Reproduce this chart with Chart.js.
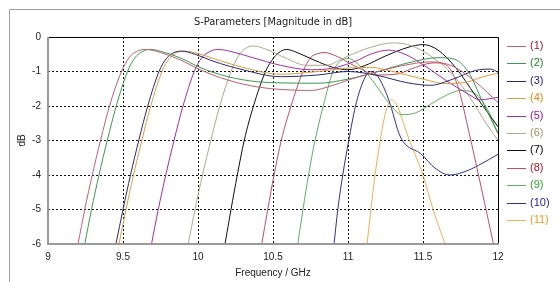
<!DOCTYPE html>
<html>
<head>
<meta charset="utf-8">
<script src="https://cdn.jsdelivr.net/npm/chart.js@4"></script>
<style>
  html, body { margin: 0; padding: 0; background: #fff; }
  #wrap { width: 560px; height: 282px; }
</style>
</head>
<body>
<div id="wrap"><canvas id="sparams"></canvas></div>
<script>
// ---- data: [frequency GHz, magnitude dB] per curve ----
const s1 = [[9.2,-6],[9.245,-5],[9.295,-4],[9.35,-3],[9.41,-2],[9.49,-1],[9.54,-0.6],[9.59,-0.42],[9.65,-0.36],[9.75,-0.45],[9.9,-0.7],[10.0,-0.92],[10.2,-1.25],[10.4,-1.45],[10.55,-1.52],[10.75,-1.55],[10.9,-1.4],[11.0,-1.25],[11.2,-1.0],[11.4,-0.8],[11.55,-0.72],[11.7,-0.85],[11.85,-1.3],[12.0,-1.9]];
const s2 = [[9.245,-6],[9.29,-5],[9.34,-4],[9.395,-3],[9.455,-2],[9.53,-1],[9.58,-0.6],[9.63,-0.42],[9.68,-0.36],[9.78,-0.45],[9.92,-0.68],[10.0,-0.86],[10.2,-1.15],[10.4,-1.3],[10.55,-1.33],[10.8,-1.34],[11.0,-1.22],[11.2,-1.0],[11.4,-0.75],[11.6,-0.6],[11.7,-0.63],[11.8,-1.0],[11.9,-1.9],[12.0,-2.8]];
const s3 = [[9.453,-6],[9.5,-5],[9.55,-4],[9.605,-3],[9.665,-2],[9.74,-1],[9.79,-0.62],[9.84,-0.45],[9.89,-0.41],[9.98,-0.5],[10.1,-0.7],[10.3,-0.95],[10.55,-1.15],[10.8,-1.1],[11.0,-1.0],[11.2,-1.12],[11.4,-1.33],[11.55,-1.4],[11.7,-1.22],[11.85,-0.97],[11.95,-0.93],[12.0,-1.02]];
const s4 = [[9.473,-6],[9.52,-5],[9.57,-4],[9.625,-3],[9.685,-2],[9.76,-1],[9.81,-0.62],[9.86,-0.45],[9.91,-0.41],[10.0,-0.48],[10.1,-0.62],[10.3,-0.88],[10.55,-1.08],[10.8,-1.0],[11.0,-0.9],[11.15,-0.88],[11.3,-1.0],[11.5,-1.22],[11.65,-1.35],[11.8,-1.3],[11.9,-1.15],[12.0,-1.05]];
const s5 = [[9.69,-6],[9.735,-5],[9.785,-4],[9.84,-3],[9.9,-2],[9.975,-1],[10.025,-0.6],[10.08,-0.42],[10.13,-0.36],[10.22,-0.42],[10.35,-0.58],[10.55,-0.82],[10.75,-0.95],[10.9,-0.9],[11.05,-0.7],[11.15,-0.5],[11.27,-0.38],[11.38,-0.5],[11.5,-0.8],[11.65,-1.25],[11.8,-1.65],[11.88,-1.82],[12.0,-1.75]];
const s6 = [[9.935,-6],[9.98,-5],[10.03,-4],[10.085,-3],[10.145,-2],[10.22,-1],[10.27,-0.55],[10.32,-0.32],[10.37,-0.26],[10.45,-0.35],[10.58,-0.6],[10.72,-0.82],[10.85,-0.82],[11.0,-0.55],[11.15,-0.3],[11.3,-0.17],[11.42,-0.25],[11.55,-0.55],[11.7,-1.1],[11.82,-1.8],[11.92,-2.5],[12.0,-3.0]];
const s7 = [[10.18,-6],[10.22,-5],[10.262,-4],[10.308,-3],[10.37,-2],[10.45,-1],[10.505,-0.6],[10.55,-0.42],[10.59,-0.36],[10.66,-0.45],[10.78,-0.68],[10.9,-0.88],[11.0,-0.95],[11.1,-0.85],[11.25,-0.55],[11.4,-0.3],[11.5,-0.22],[11.6,-0.38],[11.72,-0.9],[11.85,-1.7],[12.0,-2.6]];
const s8 = [[10.425,-6],[10.465,-5],[10.507,-4],[10.555,-3],[10.62,-2],[10.7,-1],[10.75,-0.6],[10.8,-0.48],[10.84,-0.45],[10.92,-0.55],[11.05,-0.85],[11.2,-1.1],[11.32,-1.08],[11.45,-0.88],[11.57,-0.75],[11.65,-0.8],[11.73,-1.4],[11.81,-2.83],[11.87,-4.0],[11.92,-5.0],[11.97,-6]];
const s9 = [[10.665,-6],[10.7,-5],[10.737,-4],[10.78,-3],[10.835,-2],[10.9,-1],[10.95,-0.7],[11.0,-0.62],[11.07,-0.8],[11.17,-1.3],[11.27,-1.9],[11.36,-2.25],[11.45,-2.2],[11.55,-1.95],[11.65,-1.7],[11.75,-1.55],[11.85,-1.65],[11.93,-2.1],[12.0,-2.8]];
const s10 = [[10.907,-6],[10.932,-5],[10.965,-4],[11.005,-3],[11.05,-2],[11.1,-1.3],[11.15,-1.0],[11.2,-1.15],[11.27,-1.8],[11.35,-2.9],[11.49,-3.4],[11.58,-3.8],[11.68,-4.0],[11.78,-3.9],[11.87,-3.72],[12.0,-3.4]];
const s11 = [[11.127,-6],[11.153,-5],[11.18,-4],[11.215,-3],[11.25,-2.2],[11.29,-1.82],[11.33,-2.0],[11.37,-2.5],[11.41,-3.0],[11.5,-4.0],[11.567,-5],[11.647,-6]];

const curves = [s1, s2, s3, s4, s5, s6, s7, s8, s9, s10, s11];
const labels = ["(1)", "(2)", "(3)", "(4)", "(5)", "(6)", "(7)", "(8)", "(9)", "(10)", "(11)"];
const xTicks = [9, 9.5, 10, 10.5, 11, 11.5, 12];

const lineColors = ["#c06070", "#3a9a50", "#2a2a70", "#d8a040", "#a030a0", "#b0a890", "#101010", "#c05060", "#60b060", "#303090", "#f0b050"];
const textColors = ["#a01828", "#1a8a2a", "#1a1a80", "#e08a10", "#a010a0", "#9a9070", "#000000", "#b01020", "#30a030", "#1a1a90", "#e89a20"];

const FONT = "'Liberation Sans', Arial, sans-serif";
const NARROW = "'Liberation Sans Narrow', 'DejaVu Sans Condensed', sans-serif";

// frame, titles and the legend on the right
const decor = {
    id: "decor",
    beforeDraw(chart) {
        const c = chart.ctx;
        c.save();
        c.fillStyle = "#fff";
        c.fillRect(0, 0, chart.width, chart.height);
        c.strokeStyle = "#a0a0a0";
        c.lineWidth = 1;
        c.beginPath();
        c.moveTo(9.5, chart.height);
        c.lineTo(9.5, 9.5);
        c.lineTo(chart.width, 9.5);
        c.stroke();
        c.restore();
    },
    afterDatasetsDraw(chart) {
        const c = chart.ctx;
        const a = chart.chartArea;
        c.save();
        // top + right border
        c.strokeStyle = "#000";
        c.lineWidth = 1;
        c.beginPath();
        c.moveTo(a.left, a.top + 0.5);
        c.lineTo(a.right + 0.5, a.top + 0.5);
        c.lineTo(a.right + 0.5, a.bottom);
        c.stroke();
        // left + bottom axis
        c.strokeStyle = "#9a9a9a";
        c.lineWidth = 2;
        c.beginPath();
        c.moveTo(a.left, a.top);
        c.lineTo(a.left, a.bottom);
        c.lineTo(a.right + 1, a.bottom);
        c.stroke();

        // texts
        c.fillStyle = "#222";
        c.textAlign = "center";
        c.textBaseline = "middle";
        c.font = "11px " + NARROW;
        c.fillText("S-Parameters [Magnitude in dB]", (a.left + a.right) / 2, 22);
        c.font = "10px " + FONT;
        c.fillText("Frequency / GHz", (a.left + a.right) / 2, 273);
        c.save();
        c.translate(22, (a.top + a.bottom) / 2);
        c.rotate(-Math.PI / 2);
        c.fillText("dB", 0, 0);
        c.restore();

        // legend
        c.font = "11px " + FONT;
        c.textAlign = "left";
        labels.forEach((lab, i) => {
            const y = 46 + i * 17.4;
            c.strokeStyle = lineColors[i];
            c.lineWidth = 1;
            c.beginPath();
            c.moveTo(507, Math.round(y) + 0.5);
            c.lineTo(526, Math.round(y) + 0.5);
            c.stroke();
            c.fillStyle = textColors[i];
            c.fillText(lab, 530, y);
        });
        c.restore();
    },
};

const ctx = document.getElementById("sparams").getContext("2d");
const chart = new Chart(ctx, {
    type: "line",
    data: {
        datasets: curves.map((pts, i) => ({
            label: labels[i],
            data: pts.map((p) => ({ x: p[0], y: p[1] })),
            borderColor: lineColors[i],
            borderWidth: 1,
            pointRadius: 0,
            fill: false,
            cubicInterpolationMode: "monotone",
        })),
    },
    options: {
        responsive: true,
        maintainAspectRatio: false,
        animation: false,
        events: [],
        layout: { padding: { left: 0, right: 62, top: 37, bottom: 0 } },
        plugins: {
            legend: { display: false },
            tooltip: { enabled: false },
        },
        scales: {
            x: {
                type: "linear",
                min: 9,
                max: 12,
                afterBuildTicks: (axis) => {
                    axis.ticks = xTicks.map((v) => ({ value: v }));
                },
                afterFit: (axis) => {
                    axis.height = 38;
                },
                ticks: {
                    color: "#222",
                    padding: 7,
                    font: { family: FONT, size: 10 },
                    maxRotation: 0,
                    autoSkip: false,
                    callback: (v) => String(v),
                },
                grid: {
                    drawTicks: false,
                    color: (c) => (c.tick && (c.tick.value === 9 || c.tick.value === 12) ? "rgba(0,0,0,0)" : "#111"),
                },
                border: { display: false, dash: [2, 2] },
            },
            y: {
                min: -6,
                max: 0,
                afterFit: (axis) => {
                    axis.width = 48;
                },
                ticks: {
                    stepSize: 1,
                    color: "#222",
                    padding: 7,
                    font: { family: FONT, size: 10 },
                },
                grid: {
                    drawTicks: false,
                    color: (c) => (c.tick && (c.tick.value === 0 || c.tick.value === -6) ? "rgba(0,0,0,0)" : "#111"),
                },
                border: { display: false, dash: [2, 2] },
            },
        },
    },
    plugins: [decor],
});
</script>
</body>
</html>
